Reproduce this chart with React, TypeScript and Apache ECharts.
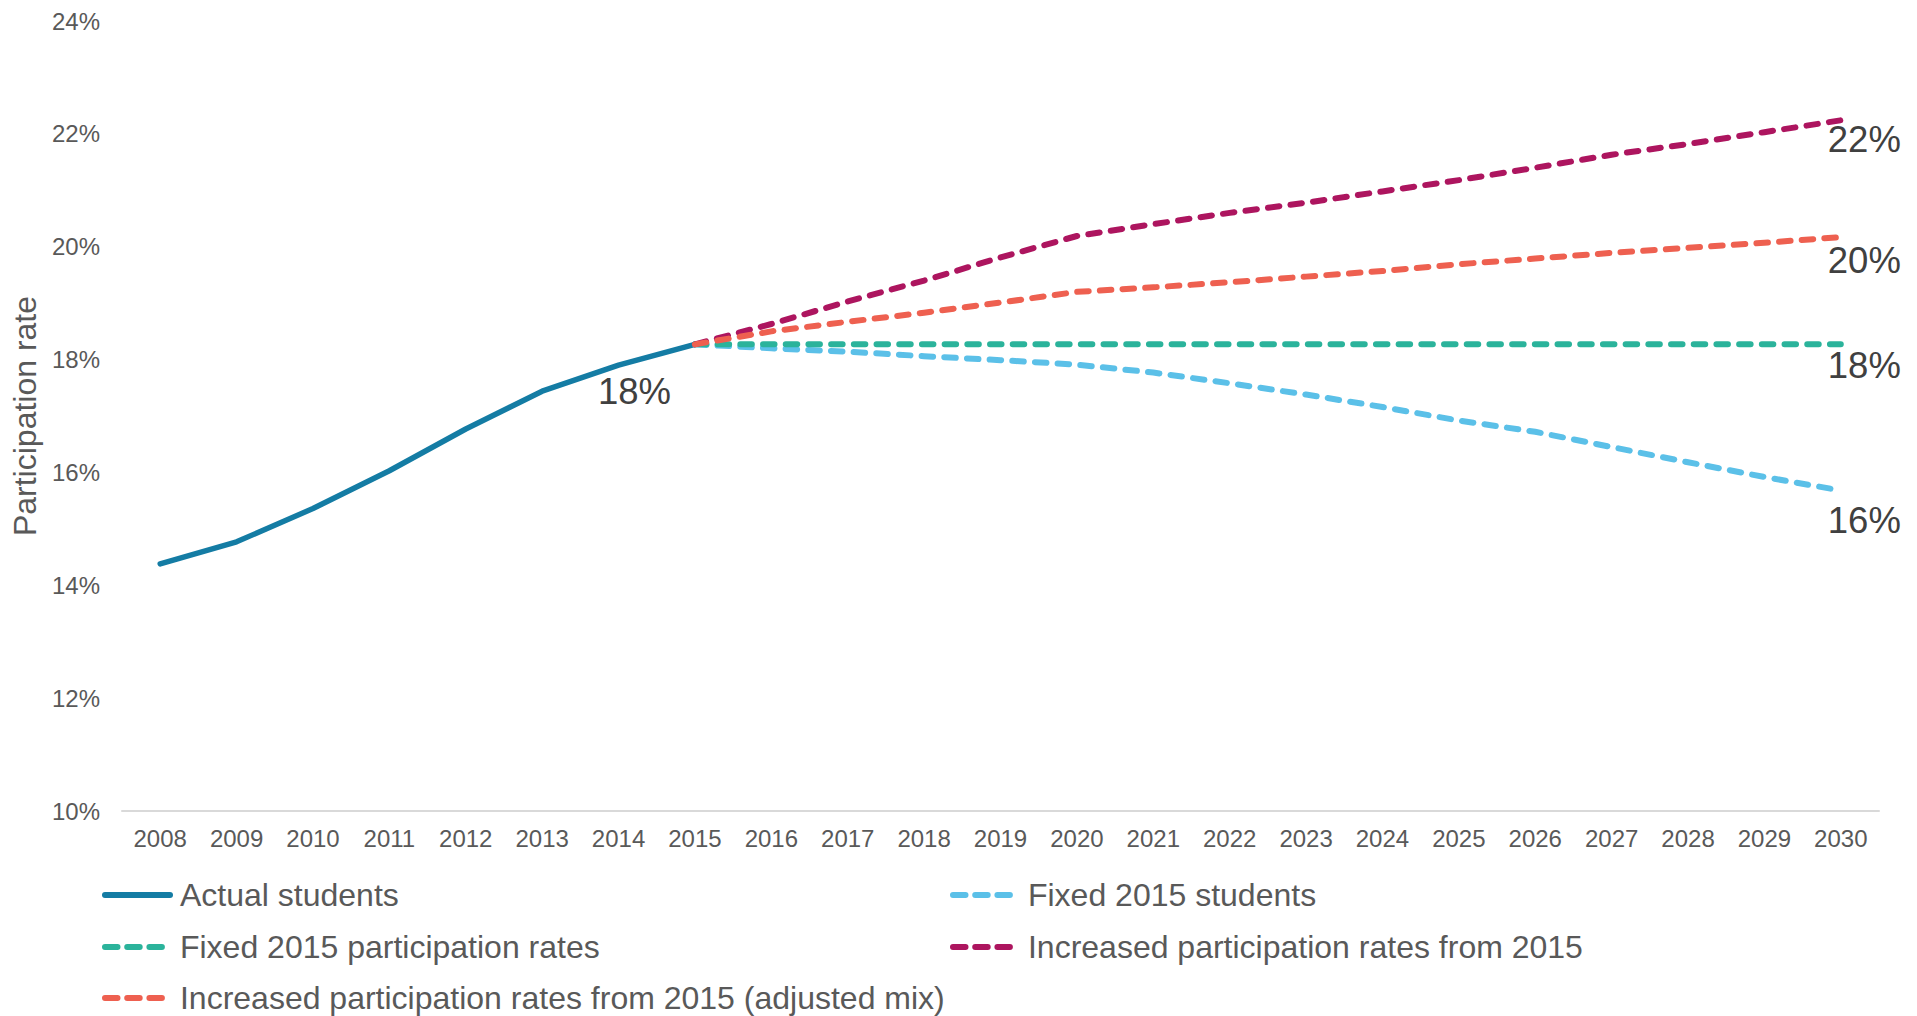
import React, { useEffect, useRef } from 'react';
import * as echarts from 'echarts';

const years = ['2008', '2009', '2010', '2011', '2012', '2013', '2014', '2015', '2016', '2017', '2018', '2019', '2020', '2021', '2022', '2023', '2024', '2025', '2026', '2027', '2028', '2029', '2030'];

// 2008-2015
const actualStudents = [14.38, 14.77, 15.36, 16.03, 16.77, 17.44, 17.9, 18.27];
// 2015-2030
const fixedStudents = [18.27, 18.2, 18.14, 18.06, 17.99, 17.91, 17.77, 17.58, 17.38, 17.16, 16.92, 16.72, 16.45, 16.18, 15.92, 15.68];
const fixedRates = [18.27, 18.27, 18.27, 18.27, 18.27, 18.27, 18.27, 18.27, 18.27, 18.27, 18.27, 18.27, 18.27, 18.27, 18.27, 18.27];
const increasedRates = [18.27, 18.63, 19.03, 19.4, 19.81, 20.19, 20.4, 20.6, 20.78, 20.98, 21.18, 21.4, 21.63, 21.82, 22.03, 22.24];
const adjustedMix = [18.27, 18.5, 18.67, 18.83, 19.01, 19.2, 19.28, 19.37, 19.47, 19.57, 19.69, 19.79, 19.89, 19.98, 20.07, 20.17];

const names = [
  'Actual students',
  'Fixed 2015 students',
  'Fixed 2015 participation rates',
  'Increased participation rates from 2015',
  'Increased participation rates from 2015 (adjusted mix)',
];
const colors = ['#147ca4', '#5bc0e8', '#2bb39b', '#ad155f', '#ee6050'];
const endLabelTexts = ['18%', '16%', '18%', '22%', '20%'];

const yTicks = { min: 10, max: 24, interval: 2 };

const FONT = "'Liberation Sans', Arial, sans-serif";

const solidIcon = 'path://M3,0H68A3,3,0,0,1,68,6H3A3,3,0,0,1,3,0Z';
const dashIcon =
  'path://M3,0H15.5A3,3,0,0,1,15.5,6H3A3,3,0,0,1,3,0Z M25.2,0H37.7A3,3,0,0,1,37.7,6H25.2A3,3,0,0,1,25.2,0Z M47.4,0H59.9A3,3,0,0,1,59.9,6H47.4A3,3,0,0,1,47.4,0Z';

const gap2008to2014 = ['-', '-', '-', '-', '-', '-', '-'];

function buildOption() {
  const projections = [fixedStudents, fixedRates, increasedRates, adjustedMix];
  const endOffsets: number[][] = [
    [-97, 47],
    [-13, 30],
    [-13, 21],
    [-13, 19.5],
    [-13, 23.5],
  ];
  const labelSize = 36.5;

  const series: any[] = [];
  series.push({
    name: names[0],
    type: 'line',
    data: actualStudents,
    symbol: 'none',
    lineStyle: { color: colors[0], width: 5.5, cap: 'round', join: 'round' },
    itemStyle: { color: colors[0] },
    emphasis: { disabled: true },
    endLabel: {
      show: true,
      formatter: endLabelTexts[0],
      position: 'right',
      distance: 0,
      offset: endOffsets[0],
      fontSize: labelSize,
      color: '#404040',
      fontFamily: FONT,
    },
    z: 2,
  });
  projections.forEach((vals, i) => {
    series.push({
      name: names[i + 1],
      type: 'line',
      data: [...gap2008to2014, ...vals],
      symbol: 'none',
      lineStyle: { color: colors[i + 1], width: 6, type: [11.5, 11.2], cap: 'round', join: 'round' },
      itemStyle: { color: colors[i + 1] },
      emphasis: { disabled: true },
      endLabel: {
        show: true,
        formatter: endLabelTexts[i + 1],
        position: 'right',
        distance: 0,
        offset: endOffsets[i + 1],
        fontSize: labelSize,
        color: '#404040',
        fontFamily: FONT,
      },
      z: 3 + i,
    });
  });

  const legendPos = [
    { left: 102, top: 879, icon: solidIcon, w: 71, pad: 2 },
    { left: 950, top: 879, icon: dashIcon, w: 63, pad: 10 },
    { left: 102, top: 931, icon: dashIcon, w: 63, pad: 10 },
    { left: 950, top: 931, icon: dashIcon, w: 63, pad: 10 },
    { left: 102, top: 982, icon: dashIcon, w: 63, pad: 10 },
  ];

  const legend = names.map((n, i) => ({
    data: [n],
    left: legendPos[i].left,
    top: legendPos[i].top,
    padding: 0,
    icon: legendPos[i].icon,
    itemWidth: legendPos[i].w,
    itemHeight: 6,
    selectedMode: false,
    itemStyle: { borderWidth: 0, color: colors[i] },
    textStyle: {
      fontSize: 32,
      color: '#595959',
      fontFamily: FONT,
      padding: [0, 0, 0, legendPos[i].pad],
    },
  }));

  return {
    animation: false,
    backgroundColor: '#ffffff',
    textStyle: { fontFamily: FONT },
    grid: { left: 122, right: 38, top: 21, bottom: 205, containLabel: false },
    legend,
    xAxis: {
      type: 'category',
      data: years,
      boundaryGap: true,
      axisLine: { show: true, lineStyle: { color: '#d9d9d9', width: 2 } },
      axisTick: { show: false },
      axisLabel: { fontSize: 24, color: '#595959', margin: 15, interval: 0, fontFamily: FONT },
      splitLine: { show: false },
    },
    yAxis: {
      type: 'value',
      min: yTicks.min,
      max: yTicks.max,
      interval: yTicks.interval,
      name: 'Participation rate',
      nameLocation: 'middle',
      nameGap: 80,
      nameRotate: 90,
      nameTextStyle: { fontSize: 32, color: '#595959', fontFamily: FONT },
      axisLine: { show: false },
      axisTick: { show: false },
      splitLine: { show: false },
      axisLabel: { formatter: '{value}%', fontSize: 24, color: '#595959', margin: 22, fontFamily: FONT },
    },
    series,
  };
}

export default function App() {
  const ref = useRef<HTMLDivElement>(null);
  useEffect(() => {
    if (!ref.current) return;
    const chart = echarts.init(ref.current, null, { renderer: 'svg' });
    chart.setOption(buildOption() as any);
    return () => {
      chart.dispose();
    };
  }, []);
  return (
    <div
      ref={ref}
      style={{ position: 'fixed', left: 0, top: 0, width: 1917, height: 1016, background: '#ffffff' }}
    />
  );
}
